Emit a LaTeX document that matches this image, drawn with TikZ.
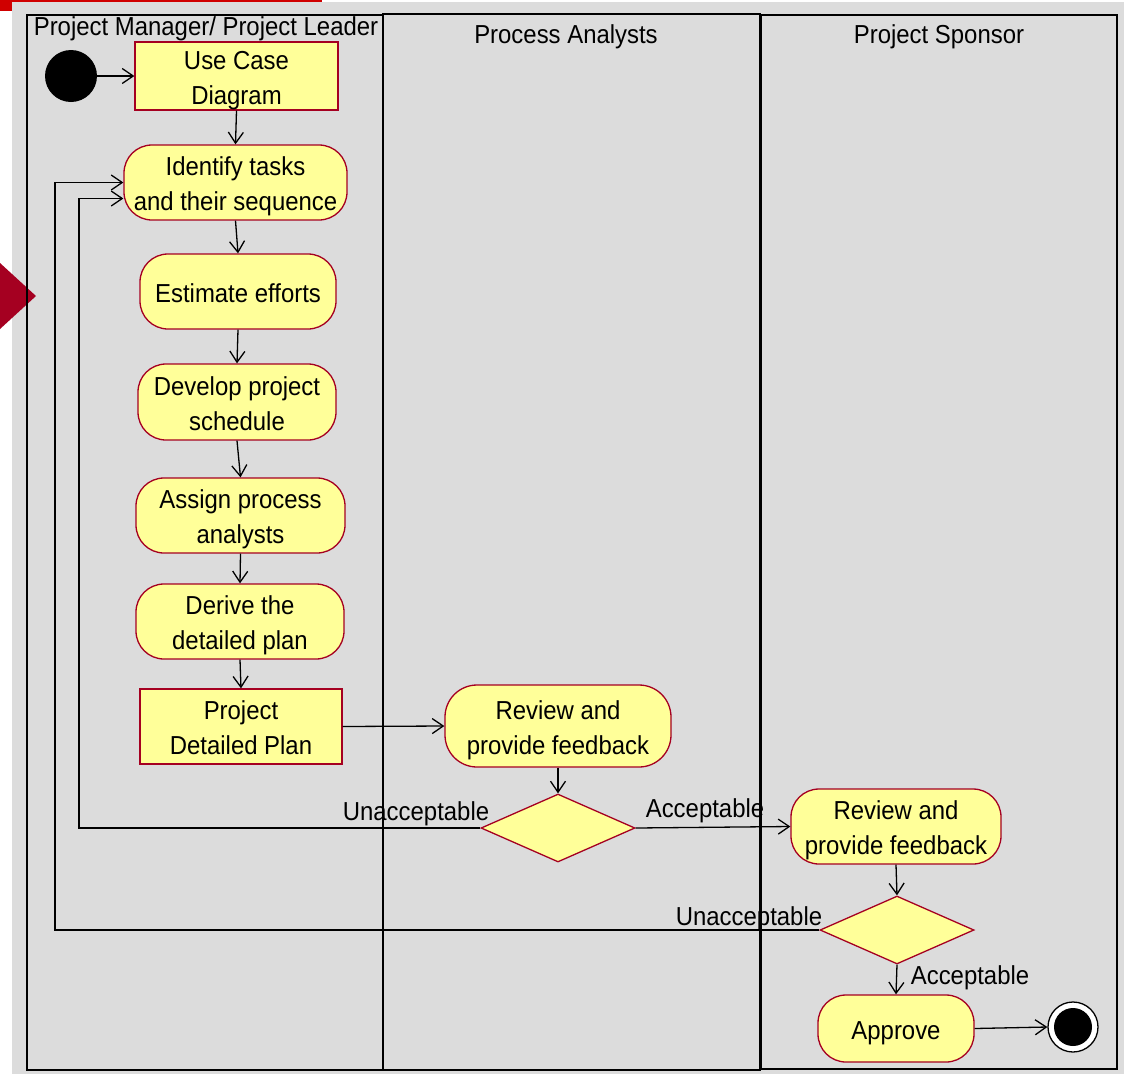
\documentclass[tikz,border=0pt]{standalone}
\usepackage{fontspec}
\setmainfont[FakeStretch=0.92]{Liberation Sans}
\usetikzlibrary{arrows.meta,shapes.geometric}
\definecolor{lanegray}{HTML}{DCDCDC}
\definecolor{actfill}{HTML}{FFFF99}
\definecolor{actline}{HTML}{A50021}
\definecolor{barred}{HTML}{D00000}
% centred block of text lines, sitting a little low and not widening its shape
\newcommand\acttext[1]{\raisebox{0pt}[\dimexpr\height-3pt\relax][\dimexpr\depth-10pt\relax]{\begin{tabular}{@{}c@{}}#1\end{tabular}}}
\begin{document}
\begin{tikzpicture}[x=1pt,y=-1pt,
  every node/.style={font=\fontsize{26}{35}\selectfont, inner sep=0pt},
  lane/.style={draw=black, line width=1.6pt, anchor=north west, rectangle},
  act/.style={draw=actline, fill=actfill, line width=1.3pt, rectangle, rounded corners=28pt},
  obj/.style={draw=actline, fill=actfill, line width=1.3pt, rectangle},
  dec/.style={draw=actline, fill=actfill, line width=1.3pt, diamond, aspect=2.26,
              minimum width=154pt, minimum height=68pt},
  arr/.style={-{Straight Barb[length=11pt,width=15pt,line width=1.3pt]}, line width=1.3pt},
  lbl/.style={font=\fontsize{26}{30}\selectfont}]
\useasboundingbox (0,0) rectangle (1124,1074);

% slide decorations and backdrop
\fill[barred] (0,0) rectangle (322,11);
\fill[lanegray] (12,2) rectangle (1124,1074);
\fill[actline] (0,263) -- (36,296) -- (0,329) -- cycle;

% swimlanes
\node[lane, minimum width=356pt, minimum height=1055pt] (pm) at (26,14) {};
\node[lane, minimum width=377pt, minimum height=1056pt] (pa) at (382,13) {};
\node[lane, minimum width=356pt, minimum height=1054pt] (ps) at (760,14) {};
\node (pmt) at (206,29) {Project Manager/ Project Leader};
\node (pat) at (566,37) {Process Analysts};
\node (pst) at (939,37) {Project Sponsor};

% project manager lane
\node[circle, fill=black, minimum size=52pt] (init) at (71,76) {};
\node[obj, minimum width=203pt, minimum height=68pt] (ucd) at (236.5,76) {\acttext{Use Case\\Diagram}};
\node[act, minimum width=223pt, minimum height=75pt] (ident) at (235.5,182.5) {\acttext{Identify tasks\\and their sequence}};
\node[act, minimum width=196pt, minimum height=75pt] (est) at (238,291.5) {\acttext{Estimate efforts}};
\node[act, minimum width=198pt, minimum height=76pt] (dev) at (237,402) {\acttext{Develop project\\schedule}};
\node[act, minimum width=209pt, minimum height=75pt] (assign) at (240.5,515.5) {\acttext{Assign process\\analysts}};
\node[act, minimum width=208pt, minimum height=75pt] (derive) at (240,621.5) {\acttext{Derive the\\detailed plan}};
\node[obj, minimum width=202pt, minimum height=75pt] (pdp) at (241,726.5) {\acttext{Project\\Detailed Plan}};

% process analysts lane
\node[act, minimum width=226pt, minimum height=82pt, rounded corners=32pt] (revpa) at (558,726) {\acttext{Review and\\provide feedback}};
\node[dec] (d1) at (558,828) {};

% project sponsor lane
\node[act, minimum width=210pt, minimum height=75pt] (revps) at (896,826.5) {\acttext{Review and\\provide feedback}};
\node[dec] (d2) at (897,930) {};
\node[act, minimum width=156pt, minimum height=67pt] (appr) at (896,1028.5) {\acttext{Approve}};
\node[circle, draw=black, fill=white, line width=1.3pt, minimum size=50pt] (fin) at (1073,1027) {};
\node[circle, fill=black, minimum size=38pt] (finin) at (1073,1027) {};

% control flow
\draw[arr] (init) -- (ucd);
\draw[arr] (ucd.south) -- (ident.north);
\draw[arr] (ident.south) -- (est.north);
\draw[arr] (est.south) -- (dev.north);
\draw[arr] (dev.south) -- (assign.north);
\draw[arr] (assign.south) -- (derive.north);
\draw[arr] (derive.south) -- (pdp.north);
\draw[arr] (pdp.east) -- (revpa.west);
\draw[arr] (revpa.south) -- (d1.north);
\draw[arr] (d1.west) -- (79,828) |- ([yshift=-16pt]ident.west);
\draw[arr] (d1.east) -- (revps.west);
\draw[arr] (revps.south) -- (d2.north);
\draw[arr] (d2.west) -- (55,930) |- (ident.west);
\draw[arr] (d2.south) -- (appr.north);
\draw[arr] (appr.east) -- (fin.west);

% guard labels
\node[lbl] (u1) at (416,814) {Unacceptable};
\node[lbl] (a1) at (705,811) {Acceptable};
\node[lbl] (u2) at (749,919) {Unacceptable};
\node[lbl] (a2) at (970,978) {Acceptable};
\end{tikzpicture}
\end{document}
